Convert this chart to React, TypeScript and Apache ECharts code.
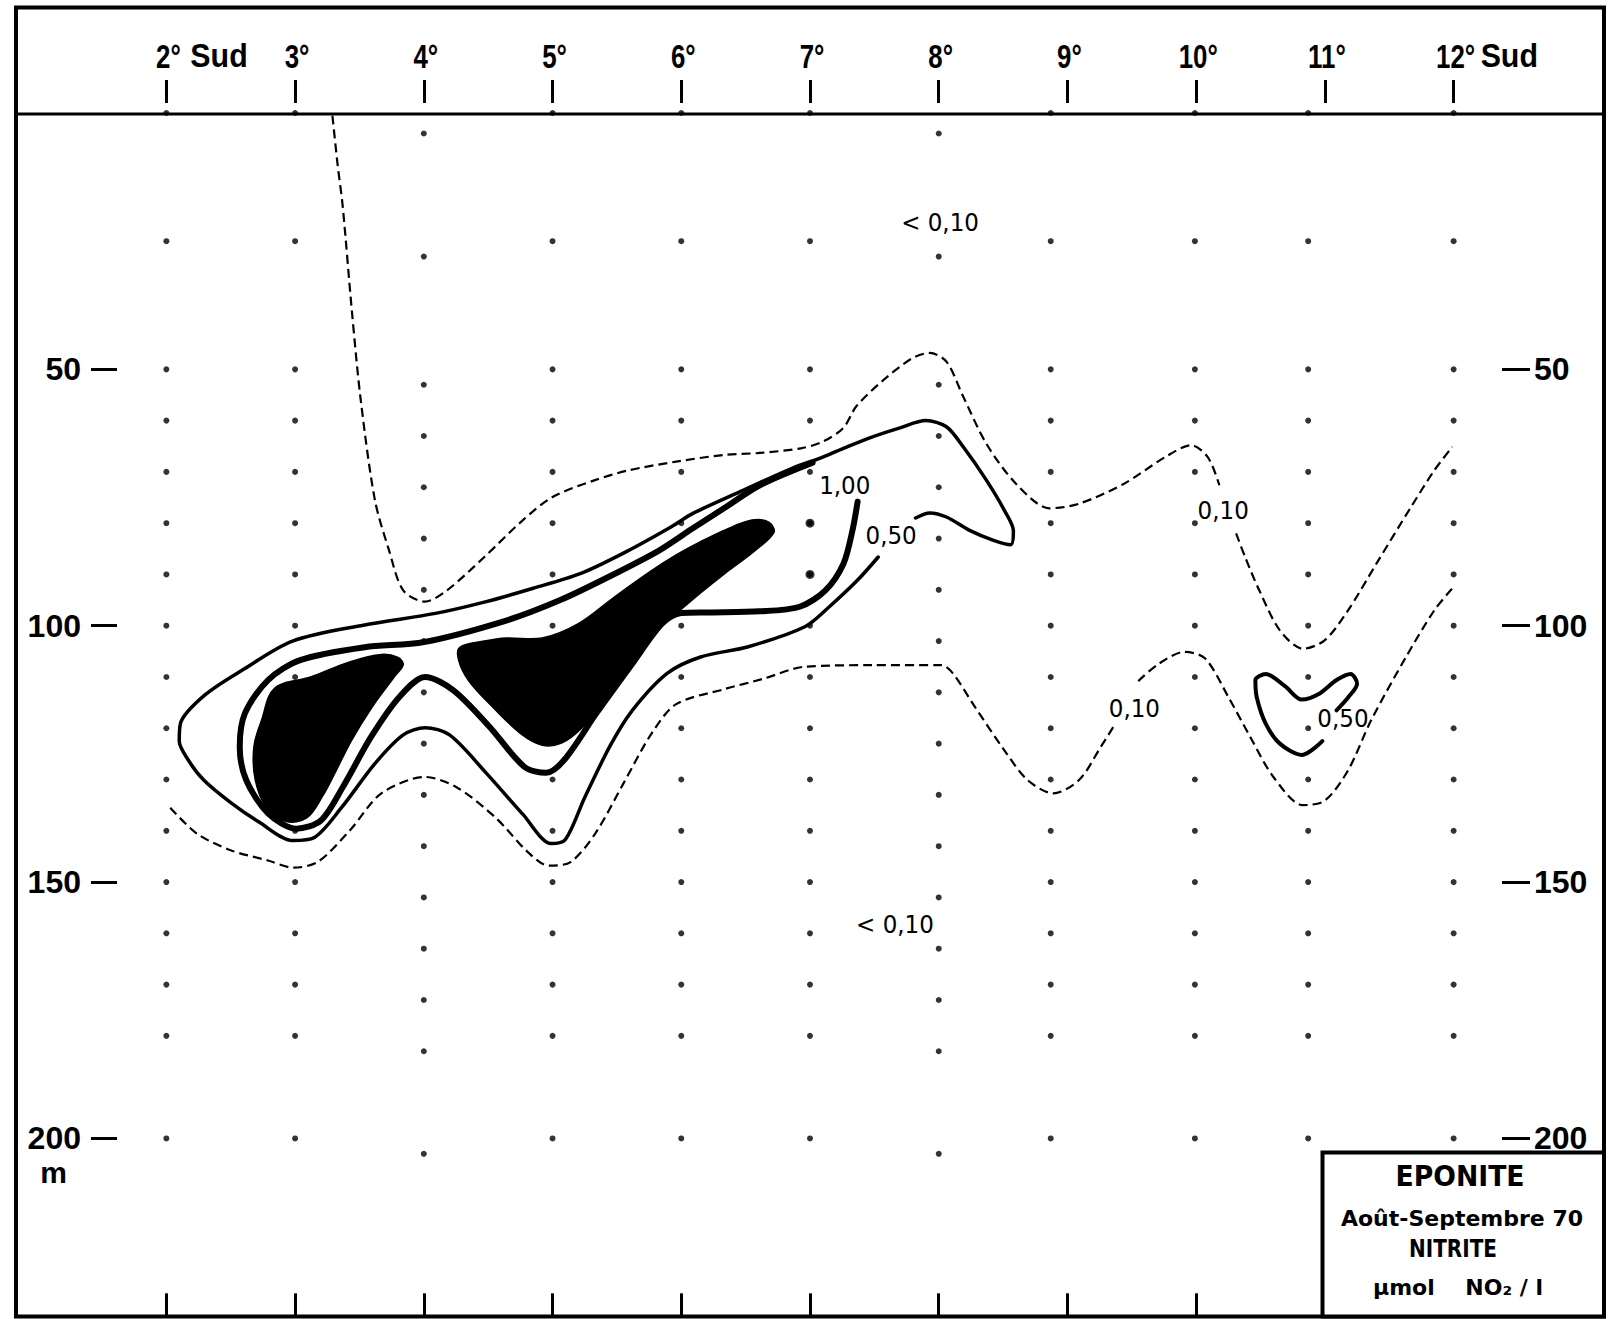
import React, { useEffect, useRef } from "react";
import * as echarts from "echarts";

// ---- axes ----
const latTicks = [2, 3, 4, 5, 6, 7, 8, 9, 10, 11, 12];
const depthTicks = [50, 100, 150, 200];

// ---- sampling stations ----
const stationLats = [2.0, 3.0, 4.0, 5.0, 6.0, 7.0, 8.0, 8.87, 9.99, 10.87, 12.0];
const depthsStandard = [0, 25, 50, 60, 70, 80, 90, 100, 110, 120, 130, 140, 150, 160, 170, 180, 200];
const depthsShifted = [4, 28, 53, 63, 73, 83, 93, 103, 113, 123, 133, 143, 153, 163, 173, 183, 203];
const stationDepthSet = ["std", "std", "shift", "std", "std", "std", "shift", "std", "std", "std", "std"];
const bigDots = [[7.0, 80], [7.0, 90]];

// ---- 0,10 isoline (dashed) ----
const upperDashedA = [
  [3.29, 0.5], [3.33, 10], [3.37, 18.2], [3.44, 38.3], [3.51, 56], [3.62, 75.5], [3.73, 85.3],
  [3.84, 93.1], [4.01, 95.3], [4.18, 93.1], [4.47, 86.6], [4.77, 79.4], [5.0, 74.9], [5.33, 71.6],
  [5.59, 69.7], [5.96, 68], [6.33, 66.7], [6.61, 66.3], [6.93, 65.4], [7.1, 64.1], [7.26, 61.4],
  [7.36, 57.2], [7.57, 52.1], [7.79, 47.9], [7.93, 46.8], [8.06, 48.5], [8.19, 55.3], [8.37, 64.5],
  [8.6, 72.3], [8.86, 77.1], [9.09, 76.2], [9.44, 72.3], [9.76, 67.1], [9.96, 64.8], [10.09, 67.1],
  [10.18, 72.6],
];
const upperDashedB = [
  [10.31, 82], [10.38, 86.6], [10.49, 93.1], [10.65, 100.9], [10.83, 104.5], [11.0, 102.8],
  [11.18, 97], [11.4, 87.9], [11.67, 76.8], [11.85, 69.7], [11.99, 65.1],
];
const lowerDashedA = [
  [2.03, 135.5], [2.24, 140.6], [2.5, 143.8], [2.79, 145.8], [2.99, 147.2], [3.18, 146], [3.43, 139.8],
  [3.67, 132.7], [4.01, 129.5], [4.26, 131.6], [4.56, 137.5], [4.81, 144.2], [4.97, 146.8], [5.14, 146.1],
  [5.33, 140.6], [5.55, 130.8], [5.77, 121], [5.96, 115.3], [6.33, 112.4], [6.63, 110.4], [6.96, 108],
  [7.48, 107.7], [8.02, 107.7], [8.11, 109.3], [8.28, 115.8], [8.51, 124.3], [8.69, 130.1], [8.89, 132.7],
  [9.09, 130.1], [9.26, 123.6], [9.36, 119.6],
];
const lowerDashedB = [
  [9.55, 110.8], [9.71, 107.4], [9.91, 105.1], [10.07, 106.4], [10.25, 113.9], [10.42, 121.7],
  [10.6, 129.5], [10.83, 135], [11.0, 134.1], [11.18, 128.2], [11.36, 118.4], [11.63, 106.1],
  [11.85, 97], [11.99, 92.7],
];

// ---- 0,50 isolines (solid) ----
const contour050 = [
  [7.82, 79], [7.93, 78], [8.06, 78.8], [8.24, 81.4], [8.42, 83.3], [8.56, 84.2], [8.58, 81.5],
  [8.51, 77.5], [8.37, 71.6], [8.19, 65.1], [8.06, 61.2], [7.9, 60], [7.7, 61.4], [7.48, 63.2],
  [7.26, 65.4], [7.08, 67.3], [6.87, 69.2], [6.48, 73.6], [6.09, 78.1], [5.93, 80.6], [5.57, 85.6],
  [5.22, 89.8], [4.85, 92.7], [4.47, 95.4], [4.09, 97.6], [3.53, 99.9], [2.98, 103], [2.6, 108.5],
  [2.3, 113.5], [2.11, 119], [2.1, 122.5], [2.17, 126.2], [2.29, 130.1], [2.5, 134.5], [2.72, 138.3],
  [2.98, 141.9], [3.15, 141.3], [3.36, 135.5], [3.62, 126.9], [3.84, 121.3], [4.01, 119.9], [4.2, 121.3],
  [4.48, 128.6], [4.77, 136.8], [4.99, 142.5], [5.1, 141.7], [5.25, 133.5], [5.45, 123.3], [5.62, 116.5],
  [5.89, 109.3], [6.15, 106.1], [6.52, 104.1], [6.96, 100.2], [7.15, 96.3], [7.37, 91.1], [7.53, 86.6],
];
const loop050East = [
  [10.98, 122.5], [10.82, 125.2], [10.65, 123], [10.54, 119.1], [10.47, 113.9], [10.46, 110.6],
  [10.54, 109.4], [10.69, 111.8], [10.82, 114.4], [10.96, 113.2], [11.09, 110.6], [11.2, 109.4],
  [11.25, 111.3], [11.18, 114], [11.09, 116.5],
];

// ---- 1,00 isoline (thick) ----
const contour100 = [
  [7.02, 68.2], [6.61, 72.6], [6.35, 76.8], [6.09, 81], [5.83, 85.3], [5.45, 90.3], [5.06, 95.0],
  [4.64, 99.0], [4.0, 103.2], [3.54, 104.2], [3.04, 106.7], [2.79, 110.6], [2.61, 117.1], [2.57, 123.6],
  [2.62, 130.1], [2.79, 136.6], [3.01, 139.6], [3.2, 138], [3.37, 131.5], [3.59, 121.7], [3.81, 113.9],
  [4.01, 110], [4.23, 112.6], [4.51, 119.7], [4.78, 127.5], [4.95, 128.7], [5.09, 126.2], [5.34, 117.1],
  [5.62, 107.4], [5.85, 99.6], [6.0, 97.5], [6.22, 97.4], [6.61, 97.2], [6.92, 96.3], [7.12, 93.1],
  [7.26, 87.9], [7.33, 81.4], [7.37, 75.8],
];

// ---- black cores ----
const blobWest = [
  [3.8, 106.2], [3.67, 105.6], [3.43, 107.0], [3.12, 110.0], [2.84, 112.2], [2.74, 118.4], [2.68, 123.6],
  [2.69, 130], [2.78, 135.6], [2.93, 138.2], [3.09, 137.5], [3.21, 133.4], [3.32, 128.2], [3.44, 122.3],
  [3.6, 115.8], [3.77, 110], [3.84, 107.6],
];
const blobEast = [
  [4.28, 104.2], [4.47, 103.0], [4.64, 102.4], [4.92, 102.4], [5.2, 99.6], [5.48, 94.4], [5.76, 89.4],
  [5.96, 86.2], [6.15, 83.6], [6.35, 81.2], [6.55, 79.4], [6.68, 79.8], [6.72, 81.8], [6.57, 85.4],
  [6.35, 89.6], [6.15, 93.6], [5.97, 97.4], [5.82, 100.4], [5.67, 105.0], [5.52, 110.3], [5.38, 115.2],
  [5.23, 119.9], [5.07, 122.9], [4.92, 123.3], [4.76, 121.2], [4.54, 116.0], [4.35, 110.8], [4.27, 106.7],
];

// ---- isoline labels ----
const labelTexts = ["< 0,10", "< 0,10", "0,50", "1,00", "0,10", "0,10", "0,50"];
const labelPos = [[8.01, 21.3], [7.66, 158.4], [7.63, 82.4], [7.27, 72.6], [10.21, 77.5], [9.52, 116.1], [11.14, 118.1]];

// ---- caption ----
const captionLines = ["EPONITE", "Août-Septembre 70", "NITRITE", "µmol    NO₂ / l"];

const SANS = "'Liberation Sans', Arial, sans-serif";
const DJ = "'DejaVu Sans', sans-serif";

export default function App() {
  const ref = useRef<HTMLDivElement>(null);
  useEffect(() => {
    const chart = echarts.init(ref.current as HTMLDivElement, null, { renderer: "svg" });

    const dotData: number[][] = [];
    stationLats.forEach((lat, i) => {
      const set = stationDepthSet[i] === "std" ? depthsStandard : depthsShifted;
      set.forEach((d) => dotData.push([lat, d]));
    });
    const blobs = [blobWest, blobEast];

    const xBase: any = { type: "value", min: 1.5, max: 12.5, splitLine: { show: false } };
    const yBase: any = {
      type: "value", inverse: true, min: 0, max: 234.5, splitLine: { show: false },
      axisLine: { show: false, onZero: false },
    };
    const tickStyle = { width: 3, color: "#000" };

    const solid = (data: number[][], width: number) => ({
      type: "line", data, smooth: 0.3, symbol: "none", showSymbol: false, silent: true,
      lineStyle: { color: "#000", width, type: "solid", cap: "round", join: "round" }, z: 3,
    });
    const dashed = (data: number[][]) => ({
      type: "line", data, smooth: 0.3, symbol: "none", showSymbol: false, silent: true,
      lineStyle: { color: "#000", width: 2.2, type: [9, 5] }, z: 3,
    });

    const txt = (extra: any) => ({
      fill: "#000", align: "center", verticalAlign: "middle",
      textAlign: "center", textVerticalAlign: "middle", ...extra,
    });

    const option: any = {
      animation: false,
      backgroundColor: "#fff",
      grid: { left: 102, top: 113, width: 1416, height: 1202.3, containLabel: false },
      xAxis: [
        {
          ...xBase, position: "bottom",
          axisLine: { show: false, onZero: false },
          axisTick: { show: true, inside: true, length: 22, lineStyle: tickStyle, customValues: latTicks },
          axisLabel: { show: false },
        },
        {
          ...xBase, position: "top", offset: 10,
          axisLine: { show: false, onZero: false },
          axisTick: { show: true, length: 23, lineStyle: tickStyle, customValues: latTicks },
          axisLabel: { show: false },
        },
      ],
      yAxis: [
        {
          ...yBase, position: "left", offset: -15,
          axisTick: { show: true, length: 26, lineStyle: tickStyle, customValues: depthTicks },
          axisLabel: {
            show: true, customValues: depthTicks, margin: 36, color: "#000",
            fontFamily: SANS, fontWeight: "bold", fontSize: 32,
          },
        },
        {
          ...yBase, position: "right", offset: -16,
          axisTick: { show: true, length: 28, lineStyle: tickStyle, customValues: depthTicks },
          axisLabel: {
            show: true, customValues: depthTicks, margin: 32, color: "#000",
            fontFamily: SANS, fontWeight: "bold", fontSize: 32,
          },
        },
      ],
      series: [
        {
          type: "custom", coordinateSystem: "cartesian2d", xAxisIndex: 0, yAxisIndex: 0, silent: true,
          encode: { x: 0, y: 1 }, z: 2,
          data: blobs.map((b) => b[0]),
          renderItem: (params: any, api: any) => {
            const poly = blobs[params.dataIndex];
            const pts = poly.map((p) => api.coord(p));
            return {
              type: "polygon",
              shape: { points: pts, smooth: 0.35 },
              style: { fill: "#000", stroke: "#000", lineWidth: 1.5 },
            };
          },
        },
        dashed(upperDashedA),
        dashed(upperDashedB),
        dashed(lowerDashedA),
        dashed(lowerDashedB),
        solid(contour050, 3.5),
        solid(loop050East, 4),
        solid(contour100, 6),
        {
          type: "scatter", data: dotData, symbol: "circle", symbolSize: 6, silent: true,
          itemStyle: { color: "#000" }, z: 4,
        },
        {
          type: "scatter", data: bigDots, symbol: "circle", symbolSize: 9, silent: true,
          itemStyle: { color: "#000" }, z: 4,
        },
        {
          // isoline labels
          type: "custom", coordinateSystem: "cartesian2d", silent: true, encode: { x: 0, y: 1 }, z: 5,
          data: labelPos,
          renderItem: (params: any, api: any) => {
            const p = api.coord([api.value(0), api.value(1)]);
            return {
              type: "text", x: p[0], y: p[1], scaleX: 0.92,
              style: txt({ text: labelTexts[params.dataIndex], fontSize: 25, fontFamily: DJ }),
            };
          },
        },
        {
          // latitude labels above the header ticks
          type: "custom", coordinateSystem: "cartesian2d", silent: true, clip: false,
          encode: { x: 0, y: 1 }, z: 5,
          data: latTicks.map((v) => [v, 0]),
          renderItem: (params: any, api: any) => {
            const v = latTicks[params.dataIndex];
            const p = api.coord([api.value(0), 0]);
            const y = p[1] - 57;
            const children: any[] = [
              {
                type: "text", x: p[0] + 2, y, scaleX: 0.76,
                style: txt({ text: `${v}°`, fontSize: 34, fontFamily: SANS, fontWeight: "bold" }),
              },
            ];
            if (v === 2 || v === 12) {
              children.push({
                type: "text", x: p[0] + (v === 12 ? 27 : 24), y, scaleX: 0.92,
                style: txt({
                  text: "Sud", fontSize: 33, fontFamily: SANS, fontWeight: "bold",
                  align: "left", textAlign: "left",
                }),
              });
            }
            return { type: "group", children };
          },
        },
      ],
      graphic: {
        elements: [
          {
            type: "rect", z: 100, silent: true,
            shape: { x: 16, y: 7.5, width: 1588, height: 1309 },
            style: { fill: "none", stroke: "#000", lineWidth: 4 },
          },
          {
            type: "line", z: 100, silent: true,
            shape: { x1: 16, y1: 114, x2: 1604, y2: 114 },
            style: { stroke: "#000", lineWidth: 3 },
          },
          {
            type: "rect", z: 100, silent: true,
            shape: { x: 1322.5, y: 1152.5, width: 281.5, height: 164 },
            style: { fill: "#fff", stroke: "#000", lineWidth: 4 },
          },
          {
            type: "text", z: 101, silent: true, x: 1460, y: 1176, scaleX: 0.92,
            style: txt({ text: captionLines[0], fontSize: 29, fontFamily: DJ, fontWeight: "bold" }),
          },
          {
            type: "text", z: 101, silent: true, x: 1462, y: 1218,
            style: txt({ text: captionLines[1], fontSize: 22, fontFamily: DJ, fontWeight: "bold" }),
          },
          {
            type: "text", z: 101, silent: true, x: 1453, y: 1248, scaleX: 0.8,
            style: txt({ text: captionLines[2], fontSize: 25, fontFamily: DJ, fontWeight: "bold" }),
          },
          {
            type: "text", z: 101, silent: true, x: 1458, y: 1287,
            style: txt({ text: captionLines[3], fontSize: 22, fontFamily: DJ, fontWeight: "bold" }),
          },
          {
            type: "text", z: 101, silent: true, x: 53.5, y: 1172,
            style: txt({ text: "m", fontSize: 30, fontFamily: SANS, fontWeight: "bold" }),
          },
        ],
      },
    };

    chart.setOption(option);
    return () => chart.dispose();
  }, []);

  return (
    <div
      ref={ref}
      style={{ position: "fixed", left: 0, top: 0, width: 1616, height: 1319, background: "#fff" }}
    />
  );
}
